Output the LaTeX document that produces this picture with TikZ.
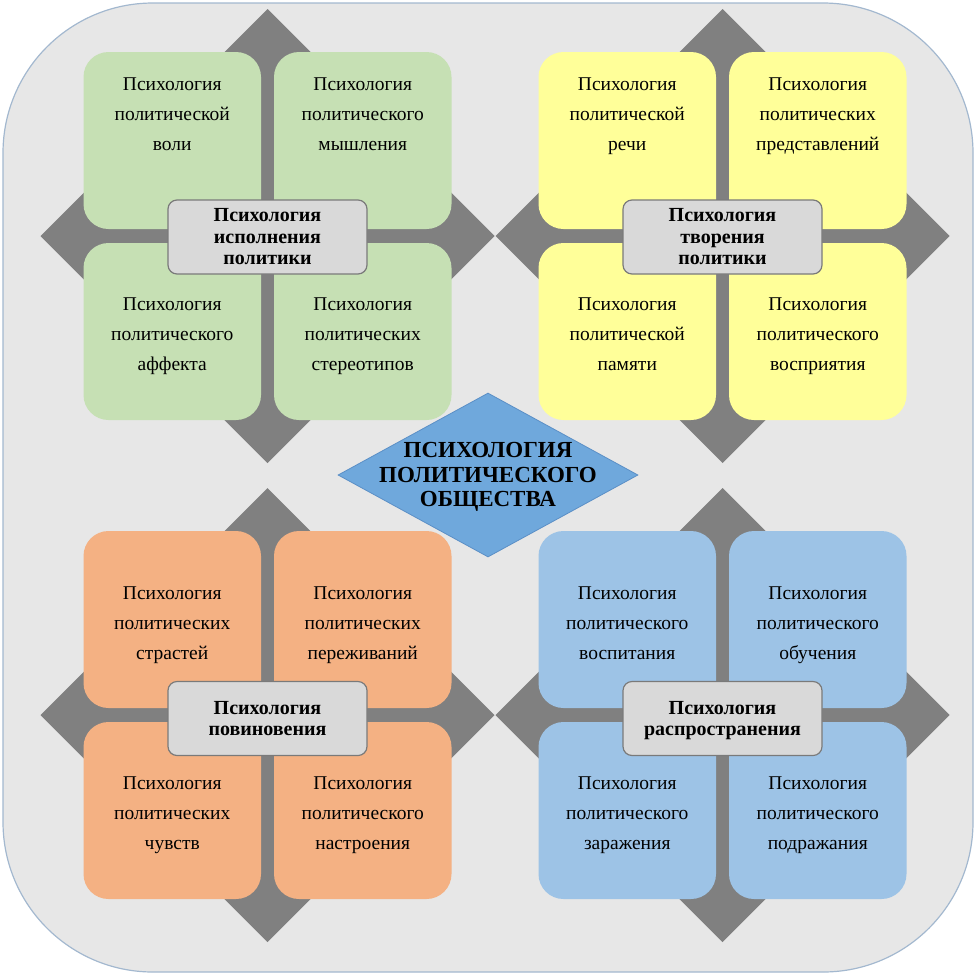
\documentclass[tikz,border=0pt]{standalone}
\usepackage{fontspec}
\setmainfont{Liberation Serif}
\usetikzlibrary{shapes.geometric}
\definecolor{bgfill}{HTML}{E7E7E7}
\definecolor{bgborder}{HTML}{A3B8CF}
\definecolor{crossgray}{HTML}{808080}
\definecolor{cgreen}{HTML}{C6E0B4}
\definecolor{cyellow}{HTML}{FFFF99}
\definecolor{corange}{HTML}{F4B183}
\definecolor{cblue}{HTML}{9DC3E6}
\definecolor{hubfill}{HTML}{D9D9D9}
\definecolor{hubborder}{HTML}{7A7A7A}
\definecolor{diafill}{HTML}{6FA8DC}
\definecolor{diaborder}{HTML}{5B8FC6}
\newcommand\tl[3]{\strut #1\\\strut #2\\\strut #3}
\newcommand\graycross[2]{%
  \fill[crossgray] (#1-7,#2-160) rectangle (#1+7,#2+160);
  \fill[crossgray] (#1-160,#2-7) rectangle (#1+160,#2+7);
  \fill[crossgray] (#1,#2-227) -- (#1+80,#2-147) -- (#1-80,#2-147) -- cycle;
  \fill[crossgray] (#1,#2+227) -- (#1+80,#2+147) -- (#1-80,#2+147) -- cycle;
  \fill[crossgray] (#1-227,#2) -- (#1-147,#2-80) -- (#1-147,#2+80) -- cycle;
  \fill[crossgray] (#1+227,#2) -- (#1+147,#2-80) -- (#1+147,#2+80) -- cycle;}
\newcommand\qb[6]{%
  \node[qbox, fill=#4] (#1) at (#2,#3) {};
  \node[txt] (#1t) at (#2,#5) {#6};}
\tikzset{
  bgshape/.style={draw=bgborder, fill=bgfill, line width=1.2pt, rounded corners=150pt,
    minimum width=970pt, minimum height=969pt, inner sep=0pt},
  qbox/.style={rounded corners=25pt, minimum width=177.5pt, minimum height=177pt, inner sep=0pt},
  txt/.style={align=center, font=\fontsize{19.5}{30}\selectfont, inner sep=0pt},
  hub/.style={draw=hubborder, fill=hubfill, line width=1.2pt, rounded corners=9pt,
    minimum width=199pt, minimum height=74pt, inner sep=0pt, align=center,
    font=\fontsize{20}{21.5}\selectfont\bfseries},
  hubtxt/.style={align=center, inner sep=0pt, font=\fontsize{20}{21.5}\selectfont\bfseries},
  dia/.style={diamond, draw=diaborder, fill=diafill, line width=0.8pt,
    minimum width=300pt, minimum height=164pt, inner sep=0pt},
  diatxt/.style={align=center, inner sep=0pt, font=\fontsize{23}{24.5}\selectfont\bfseries}
}
\begin{document}
\begin{tikzpicture}[x=1pt,y=-1pt]
\useasboundingbox (0,0) rectangle (976,975);
\node[bgshape] (bg) at (488,487.5) {};
% gray crosses
\graycross{267.5}{236}
\graycross{722.5}{236}
\graycross{267.5}{715}
\graycross{722.5}{715}
% top-left (green)
\qb{g1}{172.25}{140.5}{cgreen}{114}{\tl{Психология}{политической}{воли}}
\qb{g2}{362.75}{140.5}{cgreen}{114}{\tl{Психология}{политического}{мышления}}
\qb{g3}{172.25}{331.5}{cgreen}{334}{\tl{Психология}{политического}{аффекта}}
\qb{g4}{362.75}{331.5}{cgreen}{334}{\tl{Психология}{политических}{стереотипов}}
% top-right (yellow)
\qb{y1}{627.25}{140.5}{cyellow}{114}{\tl{Психология}{политической}{речи}}
\qb{y2}{817.75}{140.5}{cyellow}{114}{\tl{Психология}{политических}{представлений}}
\qb{y3}{627.25}{331.5}{cyellow}{334}{\tl{Психология}{политической}{памяти}}
\qb{y4}{817.75}{331.5}{cyellow}{334}{\tl{Психология}{политического}{восприятия}}
% bottom-left (orange)
\qb{o1}{172.25}{619.5}{corange}{623}{\tl{Психология}{политических}{страстей}}
\qb{o2}{362.75}{619.5}{corange}{623}{\tl{Психология}{политических}{переживаний}}
\qb{o3}{172.25}{810.5}{corange}{813}{\tl{Психология}{политических}{чувств}}
\qb{o4}{362.75}{810.5}{corange}{813}{\tl{Психология}{политического}{настроения}}
% bottom-right (blue)
\qb{b1}{627.25}{619.5}{cblue}{623}{\tl{Психология}{политического}{воспитания}}
\qb{b2}{817.75}{619.5}{cblue}{623}{\tl{Психология}{политического}{обучения}}
\qb{b3}{627.25}{810.5}{cblue}{813}{\tl{Психология}{политического}{заражения}}
\qb{b4}{817.75}{810.5}{cblue}{813}{\tl{Психология}{политического}{подражания}}
% hubs
\node[hub] (h1) at (267.5,237) {};
\node[hubtxt] (h1t) at (267.5,239) {\tl{Психология}{исполнения}{политики}};
\node[hub] (h2) at (722.5,237) {};
\node[hubtxt] (h2t) at (722.5,239) {\tl{Психология}{творения}{политики}};
\node[hub] (h3) at (267.5,718.5) {};
\node[hubtxt] (h3t) at (267.5,720.5) {\strut Психология\\\strut повиновения};
\node[hub] (h4) at (722.5,718.5) {};
\node[hubtxt] (h4t) at (722.5,720.5) {\strut Психология\\\strut распространения};
% centre diamond
\node[dia] (d) at (488,475) {};
\node[diatxt] (dt) at (488,477.5) {\strut ПСИХОЛОГИЯ\\\strut ПОЛИТИЧЕСКОГО\\\strut ОБЩЕСТВА};
\end{tikzpicture}
\end{document}
